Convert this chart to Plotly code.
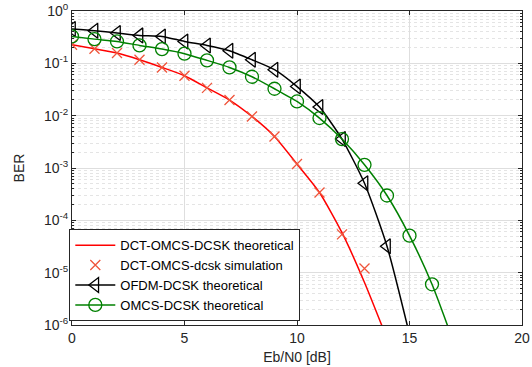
import plotly.graph_objects as go

# ---- data ----
snr_theory_dct = [0, 1, 2, 3, 4, 5, 6, 7, 8, 9, 10, 11, 12, 13, 14]
ber_theory_dct = [0.227, 0.19, 0.157, 0.117, 0.0835, 0.058, 0.034, 0.0199,
                  0.00966, 0.0040, 0.00119, 3.4e-4, 5.8e-5, 6.5e-6, 5.5e-7]

snr_sim_dct = [0, 1, 2, 3, 4, 5, 6, 7, 8, 9, 10, 11, 12, 13]
ber_sim_dct = [0.227, 0.19, 0.157, 0.117, 0.0835, 0.058, 0.034, 0.0199,
               0.00966, 0.0040, 0.00119, 3.4e-4, 5.4e-5, 1.2e-5]

snr_ofdm = [0, 1, 2, 3, 4, 5, 6, 7, 8, 9, 10, 11, 12, 13, 14, 15]
ber_ofdm = [0.453, 0.42, 0.38, 0.342, 0.327, 0.262, 0.22, 0.174, 0.117,
            0.0755, 0.036, 0.0146, 0.00357, 5.1e-4, 3.2e-5, 6.6e-7]

snr_omcs = [0, 1, 2, 3, 4, 5, 6, 7, 8, 9, 10, 11, 12, 13, 14, 15, 16, 17]
ber_omcs = [0.327, 0.29, 0.262, 0.22, 0.187, 0.153, 0.114, 0.0835, 0.0554,
            0.0327, 0.0187, 0.009, 0.00357, 0.00115, 2.98e-4, 5.1e-5, 6.0e-6, 4.2e-7]

y_tickvals = [1, 1e-1, 1e-2, 1e-3, 1e-4, 1e-5, 1e-6]
y_ticktext = ["10<sup>0</sup>", "10<sup>-1</sup>", "10<sup>-2</sup>", "10<sup>-3</sup>",
              "10<sup>-4</sup>", "10<sup>-5</sup>", "10<sup>-6</sup>"]

FONT = "Liberation Sans, Arial, Helvetica, sans-serif"
RED = "#ff0000"
GREEN = "#008000"
BLACK = "#000000"
AXC = "#262626"

fig = go.Figure()
fig.add_trace(go.Scatter(x=snr_theory_dct, y=ber_theory_dct, mode="lines",
                         line=dict(color=RED, width=1.5, shape="spline", smoothing=0.6),
                         name="DCT-OMCS-DCSK theoretical"))
fig.add_trace(go.Scatter(x=snr_sim_dct, y=ber_sim_dct, mode="markers",
                         marker=dict(symbol="x-thin-open", size=10,
                                     line=dict(color=RED, width=1.3)),
                         name="DCT-OMCS-dcsk simulation"))
fig.add_trace(go.Scatter(x=snr_ofdm, y=ber_ofdm, mode="lines+markers",
                         line=dict(color=BLACK, width=1.5, shape="spline", smoothing=0.6),
                         marker=dict(symbol="triangle-left-open", size=13,
                                     line=dict(color=BLACK, width=1.3)),
                         name="OFDM-DCSK theoretical"))
fig.add_trace(go.Scatter(x=snr_omcs, y=ber_omcs, mode="lines+markers",
                         line=dict(color=GREEN, width=1.5, shape="spline", smoothing=0.6),
                         marker=dict(symbol="circle-open", size=13,
                                     line=dict(color=GREEN, width=1.3)),
                         name="OMCS-DCSK theoretical"))

fig.update_layout(
    width=532, height=367,
    margin=dict(l=72, r=10, t=11, b=42),
    paper_bgcolor="white", plot_bgcolor="white",
    font=dict(family=FONT, size=13, color=AXC),
    showlegend=True,
    legend=dict(x=-0.006, y=0.012, xanchor="left", yanchor="bottom",
                bgcolor="white", bordercolor=AXC, borderwidth=1,
                font=dict(family=FONT, size=13, color="#000000"),
                tracegroupgap=0, itemwidth=40),
)
fig.update_xaxes(
    range=[0, 20], dtick=5, tick0=0, automargin=False,
    showline=True, linecolor=AXC, linewidth=1, mirror="allticks",
    ticks="inside", ticklen=4, tickcolor=AXC,
    showgrid=True, gridcolor="#dedede", gridwidth=1,
    zeroline=False,
    tickfont=dict(size=14, family=FONT, color=AXC),
    title=dict(text="Eb/N0 [dB]", font=dict(size=14, family=FONT, color=AXC), standoff=7),
)
fig.update_yaxes(
    type="log", range=[-6, 0], automargin=False,
    tickmode="array", tickvals=y_tickvals, ticktext=y_ticktext,
    showline=True, linecolor=AXC, linewidth=1, mirror="allticks",
    ticks="inside", ticklen=4, tickcolor=AXC,
    showgrid=True, gridcolor="#dedede", gridwidth=1,
    minor=dict(dtick="D1", ticks="inside", ticklen=2, tickcolor=AXC,
               showgrid=True, gridcolor="#e4e4e4", griddash="dot", gridwidth=1),
    zeroline=False,
    tickfont=dict(size=14, family=FONT, color=AXC),
    title=dict(text="BER", font=dict(size=14, family=FONT, color=AXC), standoff=16),
)

# remove the default 8 px body margin of the page so the figure fills the window
fig.write_html("out.html", config={"displayModeBar": False},
               post_script="document.body.style.margin='0';")
